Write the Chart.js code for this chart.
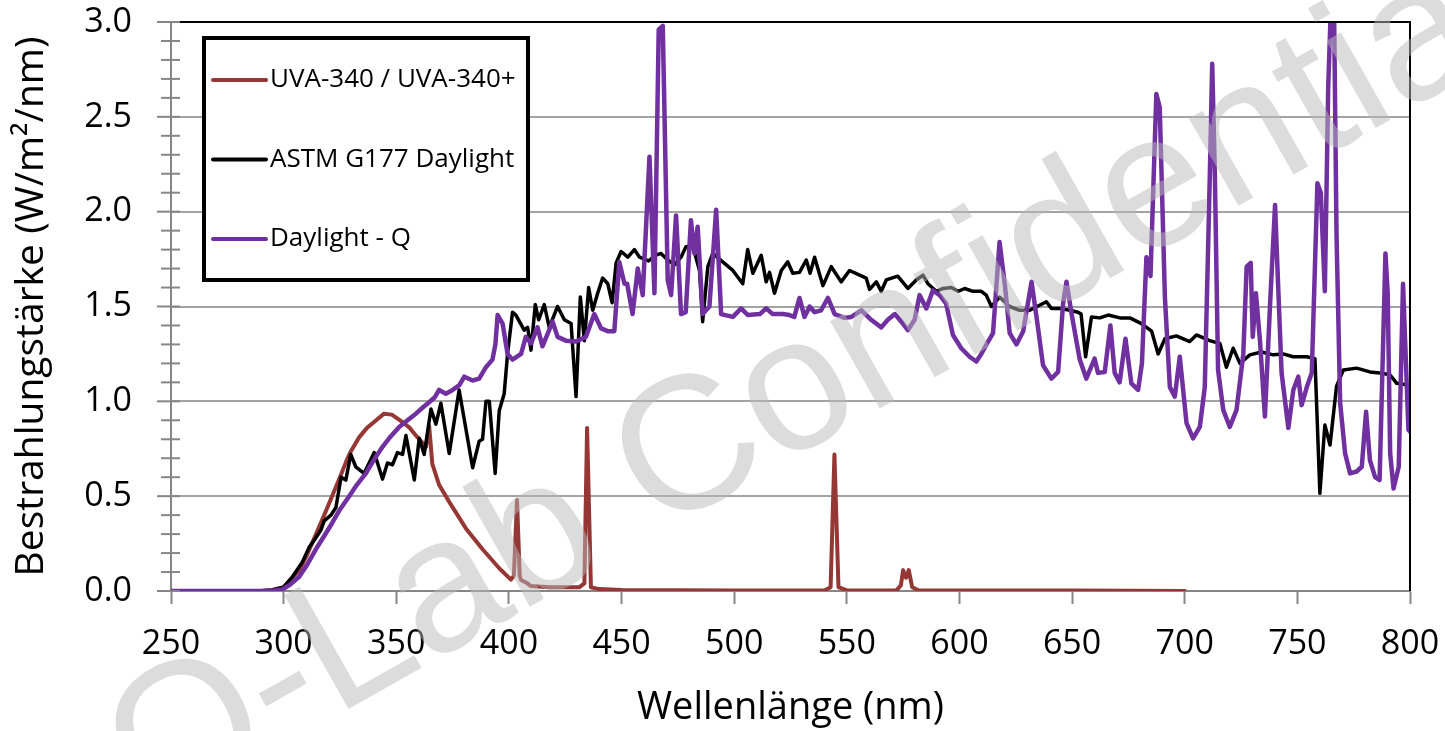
<!DOCTYPE html>
<html>
<head>
<meta charset="utf-8">
<script src="https://cdn.jsdelivr.net/npm/chart.js@4"></script>
<style>
    html, body { margin: 0; padding: 0; background: #fff; }
    #wrap { width: 1445px; height: 731px; }
</style>
</head>
<body>
<div id="wrap"><canvas id="spectrumChart" width="1445" height="731"></canvas></div>
<script>
// series labels (legend order)
const seriesLabels = ['UVA-340 / UVA-340+', 'ASTM G177 Daylight', 'Daylight - Q'];
const seriesColors = ['#953735', '#000000', '#7030a0'];

// UVA-340 lamp
const uvaNm = [250, 290, 295, 300, 303, 307, 310, 314, 318, 321.5, 325, 328, 330, 333.5, 337, 340, 344.6, 348, 352.8, 356, 358.7, 361, 363.2, 364.6, 366, 369, 373.5, 380.9, 388.3, 395.7, 400.9, 402.2, 403.6, 404.8, 405.4, 407.6, 409.8, 418, 431.3, 433.5, 434.7, 436.4, 440, 450, 500, 540, 542.8, 544.5, 546.3, 550, 572, 574, 575, 576.3, 577.5, 579, 582, 650, 700];
const uvaVal = [0, 0, 0.005, 0.02, 0.06, 0.11, 0.18, 0.29, 0.40, 0.50, 0.60, 0.69, 0.74, 0.81, 0.86, 0.89, 0.935, 0.93, 0.89, 0.86, 0.82, 0.79, 0.76, 0.87, 0.67, 0.56, 0.47, 0.33, 0.22, 0.12, 0.06, 0.08, 0.48, 0.08, 0.058, 0.045, 0.026, 0.02, 0.02, 0.04, 0.86, 0.02, 0.01, 0.005, 0.003, 0.003, 0.02, 0.72, 0.02, 0.003, 0.003, 0.03, 0.11, 0.07, 0.11, 0.02, 0.003, 0.002, 0];

// ASTM G177 daylight reference
const astmNm = [250, 290, 295, 300, 303.9, 308.2, 311.3, 314.3, 316.5, 318, 321, 323.2, 325.5, 327.6, 329.8, 332, 335.7, 340.2, 343.9, 346.1, 348.3, 350.5, 352.8, 354.3, 358, 360.2, 362.4, 365.4, 367.6, 369.8, 373.5, 377.9, 383.9, 386.8, 388.3, 389.8, 391.3, 393.9, 395.7, 397.9, 399.4, 401.6, 403.1, 406.8, 408.3, 409.8, 411.7, 413.2, 415.7, 417.9, 421.6, 424.6, 427.6, 429.8, 431.7, 433.5, 435.4, 437.2, 439.4, 441.6, 443.9, 445.8, 447.6, 449.8, 452.8, 455.7, 458, 462, 465, 467.5, 470.5, 473.5, 476.4, 478.6, 481.6, 484.6, 486, 488.3, 490.5, 494.9, 499.4, 503.8, 506, 508.3, 512, 514.2, 515.7, 517.9, 520.9, 523.8, 526, 529, 532, 533.7, 535.7, 539.4, 543.1, 547.5, 551.2, 555.7, 558.6, 560.1, 563.1, 565.3, 567.5, 572.6, 577.1, 580.8, 583.8, 586, 589.7, 592.7, 596.4, 599.4, 602.3, 606, 609.7, 611.9, 614.2, 617.8, 622.3, 626.7, 631.2, 638.6, 640.8, 644.5, 649, 652.6, 654, 656, 658.6, 662.3, 666, 671.2, 675.6, 680.8, 685.3, 688.2, 691.2, 696.3, 702.2, 705.2, 711.1, 715.6, 718.5, 721.5, 724.5, 728.9, 734.1, 739.3, 743.7, 748.1, 754.1, 757.8, 760, 762.2, 764.5, 767.4, 770.4, 776.3, 782.2, 786.6, 791.1, 794.1, 800];
const astmVal = [0, 0, 0.005, 0.02, 0.075, 0.15, 0.23, 0.28, 0.32, 0.37, 0.40, 0.44, 0.60, 0.585, 0.72, 0.655, 0.62, 0.73, 0.59, 0.675, 0.665, 0.73, 0.72, 0.82, 0.585, 0.805, 0.72, 0.96, 0.88, 0.99, 0.725, 1.06, 0.65, 0.79, 0.80, 1.0, 1.0, 0.62, 0.95, 1.04, 1.25, 1.47, 1.455, 1.375, 1.39, 1.27, 1.51, 1.43, 1.51, 1.39, 1.5, 1.43, 1.41, 1.025, 1.55, 1.32, 1.60, 1.48, 1.57, 1.65, 1.62, 1.52, 1.73, 1.79, 1.76, 1.80, 1.76, 1.74, 1.77, 1.78, 1.745, 1.72, 1.76, 1.815, 1.82, 1.69, 1.42, 1.71, 1.78, 1.735, 1.69, 1.62, 1.80, 1.675, 1.77, 1.63, 1.68, 1.57, 1.69, 1.735, 1.675, 1.68, 1.745, 1.675, 1.76, 1.61, 1.71, 1.63, 1.69, 1.665, 1.65, 1.59, 1.63, 1.58, 1.64, 1.66, 1.595, 1.64, 1.665, 1.62, 1.58, 1.595, 1.60, 1.58, 1.595, 1.58, 1.58, 1.56, 1.50, 1.55, 1.50, 1.48, 1.48, 1.525, 1.49, 1.49, 1.48, 1.47, 1.46, 1.235, 1.445, 1.44, 1.455, 1.44, 1.44, 1.41, 1.37, 1.25, 1.33, 1.345, 1.315, 1.35, 1.32, 1.305, 1.18, 1.28, 1.20, 1.245, 1.26, 1.245, 1.25, 1.235, 1.235, 1.225, 0.515, 0.875, 0.77, 1.08, 1.165, 1.175, 1.155, 1.15, 1.14, 1.095, 1.085];

// Daylight-Q lamp
const dqNm = [250, 290, 295, 299.5, 303, 306.9, 310, 314.3, 318, 321.6, 325, 329.1, 332.5, 336.5, 340, 343.9, 347.5, 351.3, 355, 358.7, 362, 364.6, 367, 369, 372, 375, 378, 380.2, 383.9, 386.8, 389.8, 392.7, 394, 395, 397.2, 399.4, 401.6, 405.4, 407.5, 409.8, 412.7, 414.9, 419.4, 421.6, 425.3, 429.8, 434.2, 437.9, 440.9, 443.9, 446.8, 449, 451.3, 452.5, 454.9, 457.2, 459.4, 462.4, 464.6, 466.5, 468.3, 470.5, 472, 474.2, 476.4, 478.5, 480.8, 482.3, 483.8, 486, 489, 492, 494.2, 499.4, 503.1, 506, 511.4, 514.2, 517.1, 521.6, 524.5, 526.7, 529, 531.2, 533.5, 535.7, 538.6, 541.6, 544.6, 549, 552, 556.5, 560.8, 565.3, 568.2, 571.3, 574.2, 577.1, 580.1, 582.3, 585.3, 588.2, 591.2, 594.1, 597.1, 600.8, 604.5, 607.5, 609.7, 612.7, 614.9, 617.8, 620.1, 622.3, 625.3, 628.3, 632, 634.2, 637.1, 640.8, 643.8, 646, 647.5, 649.8, 653.4, 656.3, 660, 661.5, 664.5, 667, 668.9, 671.1, 673.7, 676.3, 679.3, 681, 683, 684.8, 687.4, 688.9, 691.2, 693.4, 695.6, 697.8, 700.8, 703.7, 706.7, 708.9, 711.1, 712.2, 713.4, 714.8, 717.1, 720, 723, 726, 727.5, 729.3, 730.2, 731.6, 733.4, 735.6, 737.9, 740.1, 741.5, 743, 746, 748.2, 750.4, 751.9, 754.2, 756.4, 758.9, 760.4, 762.2, 763.7, 764.8, 766.3, 767.4, 769, 771.2, 773.4, 776.3, 778.6, 780.5, 782.2, 784.5, 786.5, 789.1, 790.1, 791.2, 792.7, 795, 796.9, 799.3, 800];
const dqVal = [0, 0, 0.002, 0.008, 0.035, 0.075, 0.13, 0.22, 0.29, 0.36, 0.43, 0.50, 0.56, 0.62, 0.69, 0.76, 0.815, 0.865, 0.90, 0.935, 0.97, 0.995, 1.02, 1.06, 1.04, 1.06, 1.085, 1.13, 1.11, 1.12, 1.18, 1.22, 1.30, 1.455, 1.41, 1.25, 1.22, 1.25, 1.34, 1.305, 1.39, 1.29, 1.42, 1.34, 1.32, 1.315, 1.34, 1.46, 1.385, 1.37, 1.37, 1.735, 1.62, 1.62, 1.46, 1.70, 1.56, 2.29, 1.57, 2.96, 2.98, 1.64, 1.56, 1.98, 1.46, 1.47, 1.955, 1.78, 1.92, 1.46, 1.50, 2.01, 1.46, 1.445, 1.49, 1.455, 1.46, 1.49, 1.46, 1.46, 1.455, 1.445, 1.545, 1.445, 1.50, 1.47, 1.48, 1.545, 1.46, 1.44, 1.445, 1.48, 1.43, 1.39, 1.43, 1.46, 1.42, 1.375, 1.43, 1.56, 1.49, 1.585, 1.56, 1.515, 1.35, 1.28, 1.235, 1.21, 1.25, 1.315, 1.36, 1.84, 1.62, 1.36, 1.30, 1.37, 1.63, 1.445, 1.19, 1.12, 1.155, 1.515, 1.63, 1.46, 1.22, 1.12, 1.225, 1.15, 1.155, 1.40, 1.15, 1.10, 1.33, 1.095, 1.06, 1.2, 1.76, 1.66, 2.62, 2.55, 1.55, 1.075, 1.025, 1.235, 0.885, 0.805, 0.865, 1.075, 2.17, 2.78, 2.18, 1.165, 0.955, 0.865, 0.955, 1.25, 1.71, 1.73, 1.34, 1.57, 1.32, 0.92, 1.515, 2.035, 1.60, 1.15, 0.86, 1.06, 1.13, 0.98, 1.075, 1.15, 2.15, 2.10, 1.58, 2.66, 3.05, 3.05, 1.87, 0.99, 0.725, 0.62, 0.63, 0.655, 0.945, 0.69, 0.60, 0.585, 1.78, 1.57, 0.725, 0.54, 0.655, 1.62, 0.85, 0.84];

const watermarkText = 'Q-Lab Confidential';
const axisGray = '#868686';
const gridGray = '#a3a3a3';

function toPoints(xs, ys) {
    return xs.map((x, i) => ({ x, y: ys[i] }));
}

// minor ticks on the value axis + black top/right frame
const frameAndTicks = {
    id: 'frameAndTicks',
    afterDraw(chart) {
        const { ctx, chartArea } = chart;
        const yScale = chart.scales.y;
        ctx.save();
        ctx.strokeStyle = axisGray;
        ctx.lineWidth = 2;
        for (let i = 0; i <= 30; i += 1) {
            const y = yScale.getPixelForValue(i / 10);
            const major = i % 5 === 0;
            ctx.beginPath();
            ctx.moveTo(chartArea.left - (major ? 14 : 10), y);
            ctx.lineTo(chartArea.left + 9, y);
            ctx.stroke();
        }
        ctx.strokeStyle = '#000';
        ctx.beginPath();
        ctx.moveTo(chartArea.left + 9, chartArea.top);
        ctx.lineTo(chartArea.right, chartArea.top);
        ctx.lineTo(chartArea.right, chartArea.bottom);
        ctx.stroke();
        ctx.restore();
    }
};

// boxed legend in the top-left of the plot
const boxLegend = {
    id: 'boxLegend',
    afterDatasetsDraw(chart) {
        const { ctx } = chart;
        const box = { x: 204, y: 38, w: 324, h: 242 };
        ctx.save();
        ctx.fillStyle = '#fff';
        ctx.fillRect(box.x, box.y, box.w, box.h);
        ctx.lineWidth = 4;
        ctx.strokeStyle = '#000';
        ctx.strokeRect(box.x, box.y, box.w, box.h);
        ctx.font = '26px "Open Sans"';
        ctx.textBaseline = 'middle';
        seriesLabels.forEach((label, i) => {
            const y = 80 + i * 79.5;
            ctx.strokeStyle = seriesColors[i];
            ctx.lineWidth = 4;
            ctx.lineCap = 'round';
            ctx.beginPath();
            ctx.moveTo(213, y);
            ctx.lineTo(266, y);
            ctx.stroke();
            ctx.fillStyle = '#000';
            ctx.fillText(label, 270, y);
        });
        ctx.restore();
    }
};

const watermark = {
    id: 'watermark',
    afterDraw(chart) {
        const { ctx } = chart;
        ctx.save();
        ctx.translate(815, 385);
        ctx.rotate(-29.5 * Math.PI / 180);
        ctx.font = '190px "Liberation Sans"';
        ctx.textAlign = 'center';
        ctx.textBaseline = 'middle';
        ctx.fillStyle = 'rgba(185, 185, 185, 0.5)';
        ctx.fillText(watermarkText, 0, 0);
        ctx.restore();
    }
};

new Chart(document.getElementById('spectrumChart'), {
    type: 'line',
    data: {
        datasets: [
            { label: seriesLabels[0], data: toPoints(uvaNm, uvaVal), borderColor: seriesColors[0], borderWidth: 4, order: 2 },
            { label: seriesLabels[1], data: toPoints(astmNm, astmVal), borderColor: seriesColors[1], borderWidth: 3.5, order: 1 },
            { label: seriesLabels[2], data: toPoints(dqNm, dqVal), borderColor: seriesColors[2], borderWidth: 4.5, order: 0 }
        ]
    },
    options: {
        responsive: false,
        animation: false,
        elements: {
            point: { radius: 0 },
            line: { tension: 0, borderJoinStyle: 'round', borderCapStyle: 'round' }
        },
        layout: { padding: { top: 22, right: 35, left: 0, bottom: 0 } },
        plugins: {
            legend: { display: false },
            tooltip: { enabled: false }
        },
        scales: {
            x: {
                type: 'linear',
                min: 250,
                max: 800,
                afterFit: (scale) => {
                    scale.height = 140;
                    scale.paddingLeft = 0;
                    scale.paddingRight = 0;
                },
                ticks: {
                    stepSize: 50,
                    padding: 20,
                    color: '#000',
                    font: { family: 'Open Sans', size: 34 }
                },
                grid: {
                    drawOnChartArea: false,
                    tickLength: 13,
                    tickWidth: 2,
                    tickColor: axisGray
                },
                border: { color: axisGray, width: 2 },
                title: {
                    display: true,
                    text: 'Wellenlänge (nm)',
                    color: '#000',
                    font: { family: 'Open Sans', size: 38 },
                    padding: { top: 0, bottom: 0 }
                }
            },
            y: {
                min: 0,
                max: 3,
                afterFit: (scale) => {
                    scale.width = 171;
                    scale.paddingTop = 0;
                    scale.paddingBottom = 0;
                },
                ticks: {
                    stepSize: 0.5,
                    padding: 39,
                    color: '#000',
                    font: { family: 'Open Sans', size: 34 },
                    callback: (value) => Number(value).toFixed(1)
                },
                grid: {
                    color: gridGray,
                    lineWidth: 2,
                    drawTicks: false
                },
                border: { color: axisGray, width: 2 },
                title: {
                    display: true,
                    text: 'Bestrahlungstärke (W/m²/nm)',
                    color: '#000',
                    font: { family: 'Open Sans', size: 39 },
                    padding: { top: 8, bottom: 0 }
                }
            }
        }
    },
    plugins: [boxLegend, frameAndTicks, watermark]
});
</script>
</body>
</html>
